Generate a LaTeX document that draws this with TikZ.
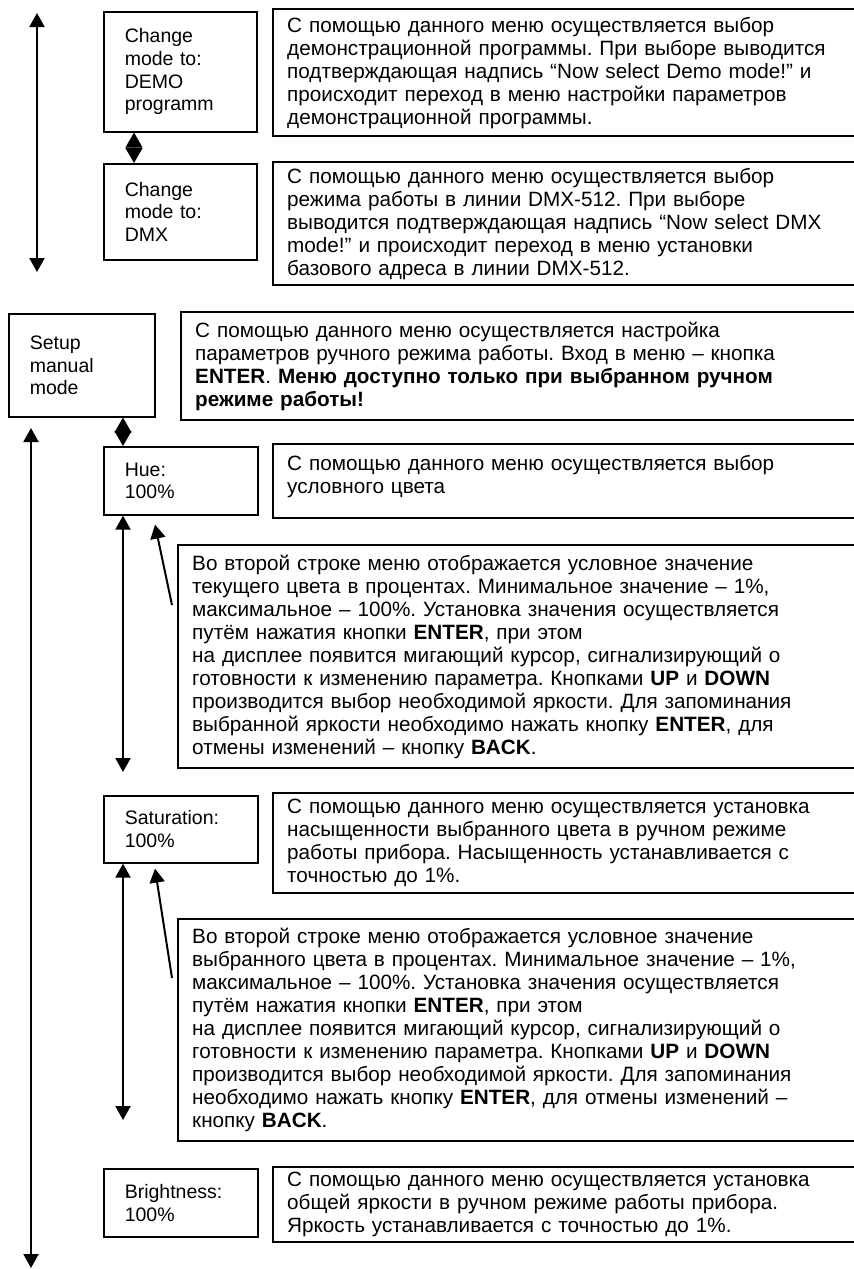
\documentclass[tikz,border=0pt]{standalone}
\usepackage{fontspec}
\setmainfont{Liberation Sans}
\usepackage{tikz}
\usetikzlibrary{arrows.meta}
\usetikzlibrary{positioning}
\frenchspacing
\tikzset{
    menu/.style={
           rectangle,
           draw, line width=1.6pt,
           inner xsep=21pt,
           align=left,
           anchor=north west,
           font=\fontsize{19.5pt}{22.6pt}\selectfont,
           },
}
\tikzset{
    info/.style={
           rectangle,
           draw, line width=2.4pt,
           inner xsep=14pt,
           text width=680pt,
           align=left,
           anchor=north west,
           font=\fontsize{20.7pt}{23pt}\selectfont,
           },
}
\tikzset{
    diam/.style={line width=1pt,{Triangle[length=15pt,width=17pt]}-{Triangle[length=15pt,width=17pt]}},
    both/.style={line width=2pt,{Triangle[length=14pt,width=15pt]}-{Triangle[length=14pt,width=15pt]}},
    tip/.style={line width=2pt,-{Triangle[length=14pt,width=15pt]}},
}

\begin{document}
\begin{tikzpicture}[x=1pt,y=-1pt]
\useasboundingbox (0,0) rectangle (854,1269);
\clip (0,0) rectangle (854,1269);
% mode selection
\node[menu,text width=111pt,minimum width=153pt,minimum height=120pt] (demo) at (103,11)
    {Change\\mode to:\\DEMO\\programm};
\node[menu,text width=111pt,minimum width=153pt,minimum height=96pt] (dmx) at (103,163)
    {Change\\mode to:\\DMX};
\node[info,minimum height=127pt] (demoinfo) at (272,8)
    {С помощью данного меню осуществляется выбор\\
     демонстрационной программы. При выборе выводится\\
     подтверждающая надпись “Now select Demo mode!” и\\
     происходит переход в меню настройки параметров\\
     демонстрационной программы.};
\node[info,minimum height=123pt] (dmxinfo) at (272,161)
    {С помощью данного меню осуществляется выбор\\
     режима работы в линии DMX-512. При выборе\\
     выводится подтверждающая надпись “Now select DMX\\
     mode!” и происходит переход в меню установки\\
     базового адреса в линии DMX-512.};
\draw[diam] ([xshift=31pt]demo.south west) -- ([xshift=31pt]dmx.north west);
\coordinate (modetop) at (37,13);
\coordinate (modebot) at (37,272);
\draw[both] (modetop) -- (modebot);

% manual mode
\node[menu,text width=104pt,minimum width=146pt,minimum height=103pt] (setup) at (8,313)
    {Setup\\manual\\mode};
\node[info,minimum height=108pt] (setupinfo) at (180,311)
    {С помощью данного меню осуществляется настройка\\
     параметров ручного режима работы. Вход в меню – кнопка\\
     \textbf{ENTER}. \textbf{Меню доступно только при выбранном ручном}\\
     \textbf{режиме работы!}};
\node[menu,text width=112pt,minimum width=154pt,minimum height=68pt] (hue) at (103,446)
    {Hue:\\100\%};
\node[info,text height=23pt,text depth=44pt] (hueinfo) at (272,443)
    {С помощью данного меню осуществляется выбор\\
     условного цвета};
\node[info,minimum height=223pt] (huehelp) at (177,544)
    {Во второй строке меню отображается условное значение\\
     текущего цвета в процентах. Минимальное значение – 1\%,\\
     максимальное – 100\%. Установка значения осуществляется\\
     путём нажатия кнопки \textbf{ENTER}, при этом\\
     на дисплее появится мигающий курсор, сигнализирующий о\\
     готовности к изменению параметра. Кнопками \textbf{UP} и \textbf{DOWN}\\
     производится выбор необходимой яркости. Для запоминания\\
     выбранной яркости необходимо нажать кнопку \textbf{ENTER}, для\\
     отмены изменений – кнопку \textbf{BACK}.};
\node[menu,text width=112pt,minimum width=154pt,minimum height=67pt] (sat) at (103,795)
    {Saturation:\\100\%};
\node[info,minimum height=100pt] (satinfo) at (272,792)
    {С помощью данного меню осуществляется установка\\
     насыщенности выбранного цвета в ручном режиме\\
     работы прибора. Насыщенность устанавливается с\\
     точностью до 1\%.};
\node[info,minimum height=222pt] (sathelp) at (177,918)
    {Во второй строке меню отображается условное значение\\
     выбранного цвета в процентах. Минимальное значение – 1\%,\\
     максимальное – 100\%. Установка значения осуществляется\\
     путём нажатия кнопки \textbf{ENTER}, при этом\\
     на дисплее появится мигающий курсор, сигнализирующий о\\
     готовности к изменению параметра. Кнопками \textbf{UP} и \textbf{DOWN}\\
     производится выбор необходимой яркости. Для запоминания\\
     необходимо нажать кнопку \textbf{ENTER}, для отмены изменений –\\
     кнопку \textbf{BACK}.};
\node[menu,text width=112pt,minimum width=154pt,minimum height=68pt] (bright) at (103,1168)
    {Brightness:\\100\%};
\node[info,minimum height=75pt] (brightinfo) at (272,1166)
    {С помощью данного меню осуществляется установка\\
     общей яркости в ручном режиме работы прибора.\\
     Яркость устанавливается с точностью до 1\%.};

\draw[diam] ([xshift=115pt]setup.south west) -- ([xshift=20pt]hue.north west);
\coordinate (manualtop) at (31,428);
\coordinate (manualbot) at (31,1268);
\draw[both] (manualtop) -- (manualbot);
% value arrows
\coordinate (hueend) at (123,772);
\draw[both] ([xshift=20pt]hue.south west) -- (hueend);
\draw[tip] ([xshift=-5pt,yshift=-61pt]huehelp.north west) -- ([xshift=52pt,yshift=-9pt]hue.south west);
\coordinate (satend) at (123,1120);
\draw[both] ([xshift=20pt]sat.south west) -- (satend);
\draw[tip] ([xshift=-5pt,yshift=-60pt]sathelp.north west) -- ([xshift=52pt,yshift=-5pt]sat.south west);
\end{tikzpicture}
\end{document}
